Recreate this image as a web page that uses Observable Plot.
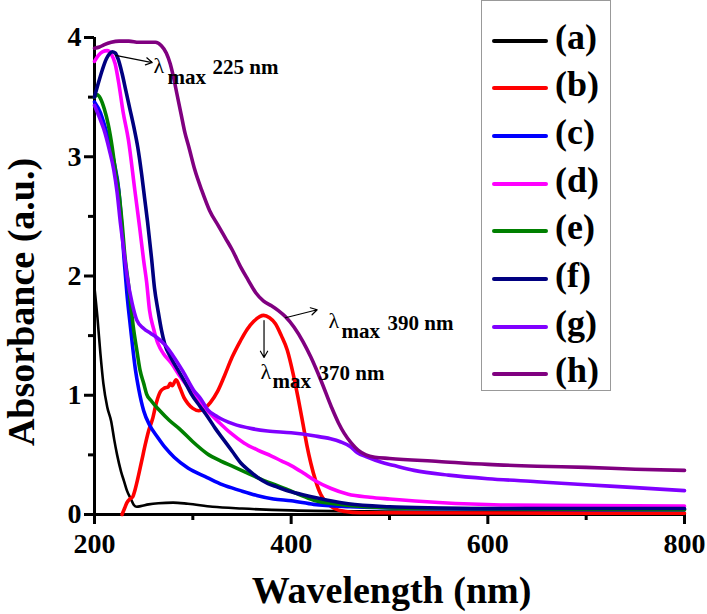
<!DOCTYPE html>
<html><head><meta charset="utf-8">
<script src="https://cdn.jsdelivr.net/npm/d3@7"></script>
<script src="https://cdn.jsdelivr.net/npm/@observablehq/plot@0.6"></script>
<style>
body{margin:0;background:#fff;}
#wrap{position:relative;width:707px;height:614px;font-family:"Liberation Serif","Tinos","Times New Roman",serif;}
#wrap svg text{font-family:"Liberation Serif","Tinos","Times New Roman",serif !important;}
#legend{position:absolute;left:481px;top:0;width:130px;height:391px;box-sizing:border-box;border:1.5px solid #999;background:#fff;}
.sw{position:absolute;left:10px;width:56px;height:4px;border-radius:2px;margin-top:-2px;}
.lab{position:absolute;left:73px;font-weight:bold;font-size:36px;line-height:1;transform:translateY(-60%);color:#000;white-space:nowrap;}
</style>
</head><body>
<div id="wrap"><div id="legend"></div></div>
<script>
// ---- data ----
const seriesNames = ["(a)","(b)","(c)","(d)","(e)","(f)","(g)","(h)"];
const seriesColors = ["#000000","#ff0000","#0000ff","#ff00ff","#008000","#000080","#8000ff","#800080"];

const curveA = [[200,1.9],[203,1.65],[206,1.35],[209,1.1],[213,0.9],[217,0.78],[220,0.63],[223,0.5],[227,0.36],[230,0.28],[233,0.2],[237,0.13],[240,0.08],[243,0.065],[247,0.07],[255,0.085],[265,0.095],[280,0.1],[295,0.09],[320,0.065],[350,0.05],[400,0.035],[500,0.025],[600,0.02],[800,0.015]];
const curveB = [[228,0],[231,0.06],[233,0.1],[236,0.13],[239,0.15],[241,0.2],[244,0.3],[248,0.45],[252,0.6],[255,0.7],[259,0.8],[263,0.94],[267,1.03],[271,1.06],[275,1.07],[277,1.1],[279,1.08],[283,1.13],[287,1.06],[291,0.98],[295,0.93],[300,0.89],[306,0.87],[312,0.89],[318,0.94],[325,1.03],[332,1.16],[340,1.32],[348,1.45],[355,1.55],[362,1.62],[368,1.66],[372,1.67],[378,1.65],[384,1.6],[390,1.5],[396,1.38],[402,1.18],[407,0.98],[412,0.76],[416,0.58],[420,0.43],[425,0.28],[430,0.17],[436,0.1],[444,0.05],[455,0.025],[470,0.015],[800,0.01]];
const curveC = [[200,3.46],[206,3.37],[210,3.27],[214.5,3.14],[220,2.95],[224.7,2.72],[227,2.5],[230,2.15],[233,1.85],[236.6,1.57],[241.7,1.21],[245,1.05],[250,0.87],[256,0.75],[264,0.65],[272,0.56],[281,0.48],[295,0.39],[314.6,0.31],[330,0.25],[348.5,0.2],[365,0.16],[382,0.13],[400,0.115],[423,0.085],[460,0.065],[500,0.055],[600,0.045],[800,0.04]];
const curveD = [[200,3.8],[204,3.85],[208,3.88],[213,3.89],[217,3.86],[221,3.78],[225,3.6],[229,3.38],[234.5,3.14],[241,2.72],[246,2.4],[250,2.13],[253,1.95],[256,1.71],[260,1.56],[264.7,1.43],[270,1.35],[278,1.27],[286,1.17],[295,1.07],[305,0.97],[315,0.87],[327,0.77],[339,0.68],[352,0.6],[366,0.54],[380,0.49],[390,0.45],[400,0.41],[412,0.35],[424,0.285],[440,0.22],[458,0.17],[480,0.145],[500,0.13],[550,0.1],[613,0.08],[700,0.075],[800,0.07]];
const curveE = [[200,3.5],[203,3.52],[206,3.49],[210,3.4],[214,3.27],[218,3.08],[221,2.9],[224.5,2.72],[228,2.45],[231,2.16],[234.4,1.94],[237,1.75],[239.5,1.57],[243,1.38],[246.3,1.21],[250,1.1],[253,1.01],[258,0.95],[266.5,0.87],[276,0.79],[287.5,0.71],[300,0.61],[314.6,0.51],[328,0.45],[341.7,0.4],[355,0.35],[365.5,0.31],[380,0.26],[399,0.2],[410,0.16],[423,0.12],[450,0.085],[491,0.06],[550,0.05],[800,0.04]];
const curveF = [[200,3.5],[204,3.62],[208,3.73],[212,3.82],[215,3.86],[218,3.88],[221,3.87],[224,3.82],[228,3.7],[232,3.55],[236,3.4],[240,3.25],[244,3.08],[248,2.85],[251,2.65],[254,2.45],[258,2.15],[261,1.9],[264.6,1.71],[268,1.55],[271.4,1.43],[278,1.31],[285,1.21],[292,1.11],[298.5,1.01],[307,0.91],[315,0.82],[323,0.72],[332,0.62],[340,0.53],[349,0.43],[357,0.37],[366,0.31],[376,0.26],[386,0.23],[400,0.19],[423,0.145],[440,0.115],[458,0.09],[500,0.065],[550,0.055],[613,0.05],[800,0.05]];
const curveG = [[200,3.43],[205,3.33],[209.5,3.23],[215,3.06],[219.6,2.89],[223,2.7],[226.4,2.44],[230,2.2],[233.3,1.99],[238.3,1.77],[243,1.63],[250,1.56],[257,1.52],[264,1.48],[272,1.42],[280,1.33],[290,1.2],[301,1.04],[308,0.97],[315,0.88],[325,0.82],[341,0.76],[360,0.72],[376,0.7],[400,0.685],[423,0.66],[440,0.635],[450,0.61],[460,0.57],[467,0.52],[478,0.48],[491,0.44],[505,0.41],[525,0.37],[560,0.33],[600,0.3],[650,0.275],[700,0.25],[750,0.225],[800,0.2]];
const curveH = [[200,3.91],[205,3.92],[210,3.94],[217,3.96],[225,3.97],[235,3.97],[245,3.96],[255,3.96],[262,3.96],[268,3.93],[273,3.87],[277,3.78],[280,3.68],[284,3.52],[288,3.36],[292,3.2],[296,3.08],[302,2.89],[309,2.72],[317,2.55],[326,2.42],[333,2.32],[340,2.22],[349,2.07],[356,1.97],[364,1.86],[372,1.79],[380,1.75],[387,1.71],[394,1.66],[403,1.57],[412,1.45],[420,1.32],[430,1.13],[441,0.9],[448,0.77],[454,0.68],[461,0.6],[468,0.54],[476,0.5],[485,0.48],[500,0.47],[550,0.445],[600,0.42],[650,0.405],[700,0.395],[750,0.38],[800,0.37]];

const xMajorTicks = [200, 400, 600, 800];
const xMinorTicks = [300, 500, 700];
const yMajorTicks = [0, 1, 2, 3, 4];
const yMinorTicks = [0.5, 1.5, 2.5, 3.5];
const xTitle = "Wavelength (nm)";
const yTitle = "Absorbance (a.u.)";

// peak annotations (data units): arrow start/end, λ, "max", value text
const noteValues = ["225 nm", "390 nm", "370 nm"];
const noteArrows = [[221.4,3.85,258.7,3.79],[394.2,1.65,426.5,1.717],[372.4,1.627,372.4,1.317]];
const noteLambda = [[260,3.70],[438,1.56],[368.8,1.14]];
const noteMax = [[274.2,3.614],[451.2,1.484],[381,1.057]];
const noteText = [[320,3.69],[498,1.543],[427.8,1.124]];

// ---- build ----
const curves = [curveA, curveB, curveC, curveD, curveE, curveF, curveG, curveH];
const rows = [];
curves.forEach((c, i) => c.forEach(([w, a]) => rows.push({wl: w, abs: a, s: seriesNames[i]})));

const serif = "'Liberation Serif', Tinos, 'Times New Roman', serif";
const lineMarks = seriesNames.map((name, i) =>
  Plot.line(rows.filter(d => d.s === name), {x: "wl", y: "abs", stroke: seriesColors[i], strokeWidth: i === 0 ? 2.6 : 3.6, curve: "monotone-x"}));

const arrows = noteArrows.map(([x1,y1,x2,y2]) => ({x1,y1,x2,y2}));
const lam = noteLambda.map(([x,y]) => ({x,y,t:"λ"}));
const mx = noteMax.map(([x,y]) => ({x,y,t:"max"}));
const vt = noteText.map(([x,y],i) => ({x,y,t:noteValues[i]}));

const chart = Plot.plot({
  width: 707, height: 614,
  marginLeft: 94, marginRight: 23, marginTop: 37, marginBottom: 100,
  x: {domain: [200, 800]},
  y: {domain: [0, 4]},
  style: {fontFamily: serif, background: "white", overflow: "visible"},
  marks: [
    Plot.axisX({ticks: xMajorTicks, tickSize: 10, tickPadding: 9, strokeWidth: 3, fontSize: 28, fontWeight: "bold", tickFormat: d3.format("d"), label: null}),
    Plot.axisX({ticks: xMinorTicks, tickSize: 6, strokeWidth: 3, tickFormat: () => "", label: null}),
    Plot.axisY({ticks: yMajorTicks, tickSize: 10, tickPadding: 3, strokeWidth: 3, fontSize: 28, fontWeight: "bold", tickFormat: d3.format("d"), label: null}),
    Plot.axisY({ticks: yMinorTicks, tickSize: 6, strokeWidth: 3, tickFormat: () => "", label: null}),
    Plot.ruleY([0], {strokeWidth: 3}),
    Plot.ruleX([200], {strokeWidth: 3}),
    ...lineMarks,
    Plot.arrow(arrows, {x1: "x1", y1: "y1", x2: "x2", y2: "y2", stroke: "black", strokeWidth: 1.2, headLength: 9, bend: 0}),
    Plot.text(lam, {x: "x", y: "y", text: "t", textAnchor: "start", lineAnchor: "bottom", fontSize: 22, fontWeight: "normal", fill: "black"}),
    Plot.text(mx, {x: "x", y: "y", text: "t", textAnchor: "start", lineAnchor: "bottom", fontSize: 21, fontWeight: "bold", fill: "black"}),
    Plot.text(vt, {x: "x", y: "y", text: "t", textAnchor: "start", lineAnchor: "bottom", fontSize: 21, fontWeight: "bold", fill: "black"}),
    Plot.text([xTitle], {frameAnchor: "bottom", text: d => d, textAnchor: "middle", dx: 2, dy: 88, lineAnchor: "bottom", fontSize: 38, fontWeight: "bold", fill: "black"}),
    Plot.text([yTitle], {frameAnchor: "left", text: d => d, textAnchor: "middle", rotate: -90, dx: -61, dy: 26, lineAnchor: "bottom", fontSize: 38, fontWeight: "bold", fill: "black"})
  ]
});
const wrap = document.getElementById("wrap");
wrap.insertBefore(chart, wrap.firstChild);

// legend
const legend = document.getElementById("legend");
seriesNames.forEach((name, i) => {
  const cy = 41 + i * 47.7 - 1.5;
  const sw = document.createElement("div");
  sw.className = "sw"; sw.style.top = cy + "px"; sw.style.background = seriesColors[i];
  const lb = document.createElement("div");
  lb.className = "lab"; lb.style.top = cy + "px"; lb.textContent = name;
  legend.appendChild(sw); legend.appendChild(lb);
});
</script>
</body></html>
